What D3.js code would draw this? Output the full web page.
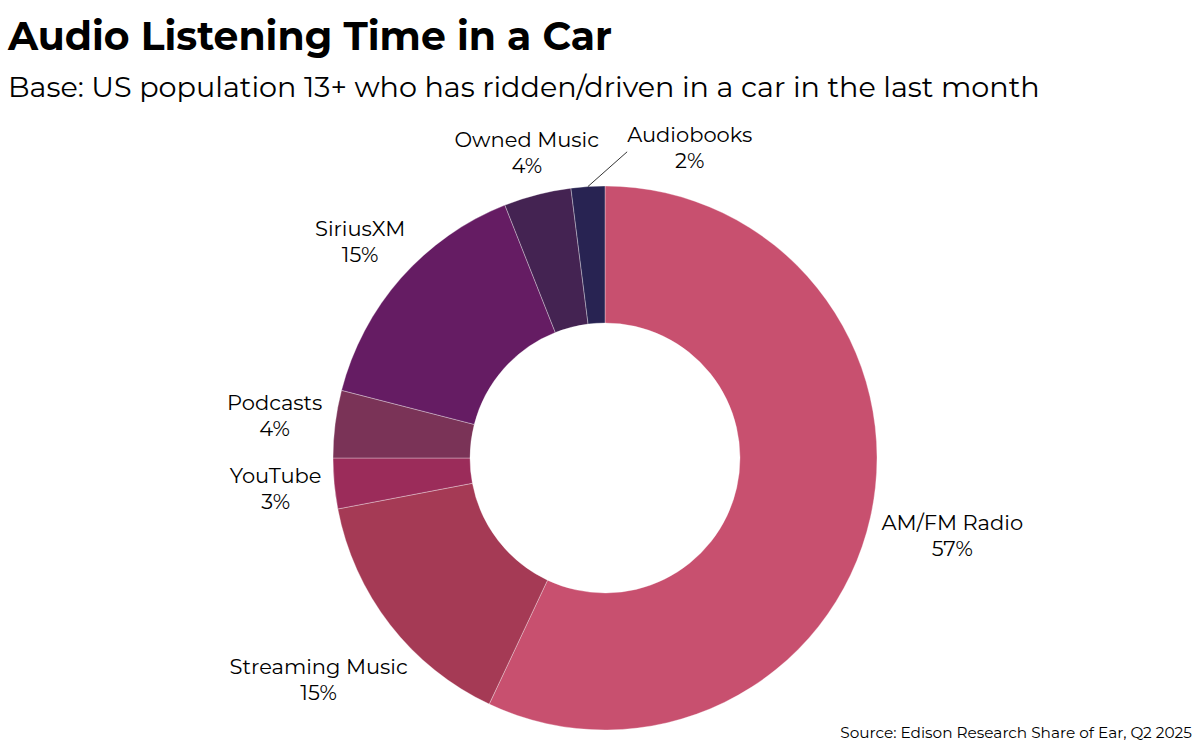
<!DOCTYPE html>
<html>
<head>
<meta charset="utf-8">
<script src="https://cdn.jsdelivr.net/npm/d3@7"></script>
<style>
  html, body { margin: 0; padding: 0; background: #fff; }
  svg { display: block; }
  text { font-family: Montserrat, "DejaVu Sans", sans-serif; fill: #000; }
</style>
</head>
<body>
<svg id="chart" width="1200" height="750"></svg>
<script>
// ---- data ----
const categories = ["AM/FM Radio", "Streaming Music", "YouTube", "Podcasts", "SiriusXM", "Owned Music", "Audiobooks"];
const values = [57, 15, 3, 4, 15, 4, 2];
const colors = ["#C8506F", "#A53A55", "#9B2C5A", "#7A3357", "#651C63", "#442352", "#282352"];
const title = "Audio Listening Time in a Car";
const subtitle = "Base: US population 13+ who has ridden/driven in a car in the last month";
const source = "Source: Edison Research Share of Ear, Q2 2025";

// ---- layout ----
const W = 1200, H = 750;
const cx = 605, cy = 458, rOuter = 272, rInner = 135;
const svg = d3.select("#chart");

function fit(sel, targetW) {
  const n = sel.node();
  const fs = parseFloat(sel.attr("font-size"));
  const w = n.getComputedTextLength();
  if (w > 0) sel.attr("font-size", (fs * targetW / w).toFixed(2));
}

fit(svg.append("text").attr("x", 8).attr("y", 50).attr("font-size", 36)
  .attr("font-weight", 700).text(title), 604);
fit(svg.append("text").attr("x", 8).attr("y", 97).attr("font-size", 26)
  .text(subtitle), 1032);
fit(svg.append("text").attr("x", 1192).attr("y", 738).attr("text-anchor", "end")
  .attr("font-size", 14).text(source), 352);

const data = categories.map((c, i) => ({ name: c, value: values[i], color: colors[i] }));
const pie = d3.pie().value(d => d.value).sort(null).startAngle(0).endAngle(2 * Math.PI);
const arcs = pie(data);
const arc = d3.arc().innerRadius(rInner).outerRadius(rOuter);

const g = svg.append("g").attr("transform", `translate(${cx},${cy})`);
g.selectAll("path.slice").data(arcs).join("path")
  .attr("class", "slice")
  .attr("d", arc)
  .attr("fill", d => d.data.color)
  .attr("stroke", "#ffffff")
  .attr("stroke-opacity", 0.55)
  .attr("stroke-width", 0.6);

// ---- labels ----
const fs = 21, lh = 26;
arcs.forEach(d => {
  const mid = (d.startAngle + d.endAngle) / 2;
  const s = Math.sin(mid), c = -Math.cos(mid);
  const lg = g.append("g");
  const t1 = lg.append("text").attr("text-anchor", "middle").attr("font-size", fs).text(d.data.name);
  const t2 = lg.append("text").attr("text-anchor", "middle").attr("font-size", fs).text(d.data.value + "%");
  const w = Math.max(t1.node().getComputedTextLength(), t2.node().getComputedTextLength());
  let x, y;
  if (d.data.value < 3) {
    const a2 = mid + 0.135;
    const p0 = [rOuter * s, rOuter * c];
    const p1 = [307 * Math.sin(a2), -307 * Math.cos(a2)];
    g.append("line").attr("x1", p0[0]).attr("y1", p0[1]).attr("x2", p1[0]).attr("y2", p1[1])
      .attr("stroke", "#000").attr("stroke-width", 0.8);
    x = p1[0] + w / 2;
    y = p1[1] - 4;
  } else {
    const dist = 284 + (w / 2) * Math.abs(s) + 13 * Math.abs(c);
    x = dist * s;
    y = dist * c;
  }
  t1.attr("x", x).attr("y", y - lh / 2 + 7);
  t2.attr("x", x).attr("y", y + lh / 2 + 7);
});
</script>
</body>
</html>
